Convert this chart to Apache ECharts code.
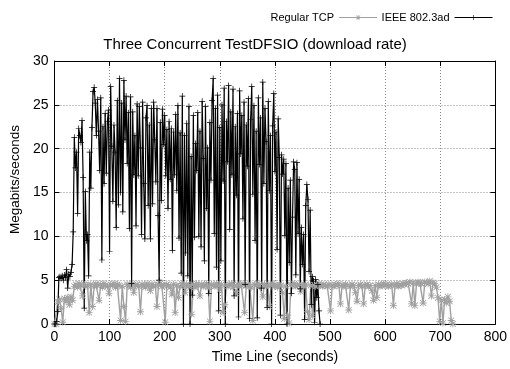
<!DOCTYPE html>
<html>
<head>
<meta charset="utf-8">
<script src="https://cdn.jsdelivr.net/npm/echarts@6/dist/echarts.min.js"></script>
<style>
html,body{margin:0;padding:0;background:#fff}
#main{width:510px;height:369px}
</style>
</head>
<body>
<div id="main"></div>
<script>
// sample spacing of each trace, seconds
var tcpStep = 3;
var bondStep = 2;

// Regular TCP download rate (Mbit/s), one value every tcpStep seconds from t=0
var tcpRate = [
  0, 0, 2.5, 2.8, 1.8, 0.2, 2.9, 2.6, 3.0, 2.2,
  3.1, 2.7, 4.3, 4.5, 4.2, 4.6, 4.4, 3.2, 4.5, 4.3,
  4.4, 1.3, 4.5, 2.0, 4.3, 4.6, 4.4, 2.7, 4.5, 4.2,
  4.6, 4.4, 4.3, 3.5, 4.5, 4.4, 4.6, 4.2, 4.5, 4.4,
  0.4, 4.3, 2.0, 0.3, 4.5, 4.4, 4.2, 4.6, 3.6, 4.4,
  4.5, 4.3, 1.4, 4.5, 4.4, 4.2, 4.6, 4.4, 3.8, 4.5,
  4.3, 4.4, 2.0, 4.5, 4.6, 4.3, 4.4, 0.2, 4.5, 4.4,
  4.2, 3.4, 4.5, 1.3, 4.4, 3.0, 4.3, 4.6, 4.4, 3.6,
  4.5, 4.3, 4.4, 1.1, 4.5, 4.2, 4.6, 4.4, 3.2, 4.5,
  4.3, 4.4, 4.6, 4.2, 0.3, 4.5, 4.4, 4.3, 4.6, 4.4,
  3.9, 4.5, 1.3, 2.2, 4.4, 4.3, 4.5, 4.6, 4.2, 4.4,
  3.5, 4.5, 4.3, 4.4, 4.6, 1.3, 4.4, 4.5, 4.3, 4.2,
  0.4, 4.5, 4.4, 4.6, 4.3, 4.4, 3.1, 4.5, 4.3, 4.4,
  2.0, 4.5, 4.6, 4.3, 4.4, 4.2, 4.5, 4.4, 3.6, 0.6,
  4.3, 1.0, 0.1, 4.5, 4.4, 4.6, 4.3, 4.4, 4.5, 3.7,
  4.4, 4.3, 4.5, 1.4, 0.5, 4.4, 1.0, 4.5, 4.3, 4.4,
  4.6, 4.4, 4.3, 4.5, 4.4, 4.3, 4.5, 1.5, 4.4, 4.3,
  4.5, 4.4, 4.6, 2.3, 4.4, 4.3, 4.5, 4.4, 1.6, 4.3,
  4.5, 4.4, 3.6, 2.6, 4.4, 4.5, 4.3, 2.3, 4.4, 4.5,
  4.3, 4.4, 3.8, 2.7, 4.4, 3.0, 4.5, 4.3, 4.4, 4.6,
  4.4, 4.5, 4.3, 4.4, 4.5, 2.1, 4.4, 4.6, 4.3, 4.5,
  4.4, 4.6, 4.5, 4.7, 4.6, 4.8, 2.3, 4.7, 2.1, 4.6,
  4.8, 4.7, 4.6, 2.4, 4.8, 4.7, 4.6, 4.9, 3.2, 4.7,
  4.6, 4.2, 3.0, 0.3, 2.7, 0.1, 2.8, 2.4, 3.1, 2.6,
  0.4, 0
];

// IEEE 802.3ad (bonded links) download rate, one value every bondStep seconds
var bondRate = [
  0, 0, 0.3, 1.4, 5.3, 5.4, 5.2, 5.5, 5.0, 5.6,
  5.3, 6.2, 4.1, 5.7, 5.4, 5.9, 6.8, 10.5, 21.3, 17.8,
  19.6, 12.6, 22.3, 21.5, 20.7, 23.2, 16.7, 1.8, 15.1, 9.5,
  10.2, 5.5, 19.6, 15.5, 22.4, 26.5, 27.0, 25.2, 21.5, 25.6,
  22.0, 17.5, 25.8, 7.3, 22.5, 16.0, 24.0, 17.2, 23.1, 24.4,
  8.3, 27.1, 20.3, 14.0, 22.7, 19.6, 11.0, 25.5, 13.6, 28.0,
  15.0, 25.2, 12.8, 27.8, 21.0, 26.0, 18.3, 24.1, 10.9, 25.9,
  4.6, 24.2, 17.0, 21.5, 11.2, 25.1, 16.9, 24.8, 20.1, 10.2,
  25.3, 16.0, 9.7, 23.5, 24.9, 13.5, 22.7, 9.7, 24.6, 13.7,
  25.3, 21.0, 16.2, 24.6, 12.4, 5.0, 23.0, 14.1, 24.5, 20.5,
  23.8, 16.9, 22.2, 13.2, 23.1, 16.5, 22.3, 8.4, 21.9, 17.0,
  23.9, 15.2, 24.9, 9.8, 21.8, 5.8, 26.0, 0, 21.5, 8.1,
  22.9, 5.5, 24.8, 0, 19.1, 3.3, 23.8, 9.9, 20.6, 17.5,
  24.1, 10.0, 22.0, 8.8, 25.4, 18.9, 7.2, 24.8, 13.2, 20.1,
  3.5, 23.0, 16.4, 25.5, 28.0, 10.3, 24.6, 6.5, 26.1, 1.5,
  22.4, 7.2, 25.0, 16.3, 26.9, 0, 23.1, 18.5, 27.2, 10.8,
  24.2, 17.0, 26.8, 3.2, 22.5, 14.7, 24.0, 0.8, 26.6, 19.4,
  23.8, 12.0, 25.3, 4.5, 22.7, 18.0, 25.7, 0.6, 23.3, 27.1,
  14.8, 24.9, 9.5, 22.0, 0.7, 25.8, 18.2, 23.5, 4.1, 27.6,
  16.0, 24.6, 20.8, 1.9, 25.4, 15.2, 21.5, 0, 22.6, 26.3,
  17.4, 21.9, 8.5, 23.4, 19.0, 1.0, 19.3, 17.1, 18.8, 10.1,
  18.3, 0, 15.5, 7.0, 16.4, 3.5, 12.2, 18.5, 17.6, 5.6,
  18.4, 10.3, 16.5, 4.0, 11.0, 6.8, 10.2, 0.5, 13.5, 15.9,
  14.2, 6.0, 13.0, 2.2, 5.4, 4.9, 0.2, 5.1, 3.0, 4.5,
  1.5, 0
];

var seriesNames = ['Regular TCP', 'IEEE 802.3ad'];

function toPoints(vals, step) {
  return vals.map(function (v, i) { return [i * step, v]; });
}

// gnuplot-ish point shapes
var plusMark = 'path://M4.4,0H5.6V4.4H10V5.6H5.6V10H4.4V5.6H0V4.4H4.4Z';
var starMark = 'path://M4.4,0H5.6V4.4H10V5.6H5.6V10H4.4V5.6H0V4.4H4.4Z' +
  'M1.2,0.4L9.6,8.8L8.8,9.6L0.4,1.2Z M8.8,0.4L9.6,1.2L1.2,9.6L0.4,8.8Z';

var font = 'Liberation Sans';
var chart = echarts.init(document.getElementById('main'));

var tickAxis = function (pos, isX) {
  var ax = {
    type: 'value', position: pos, min: 0,
    max: isX ? 800 : 30, interval: isX ? 100 : 5,
    axisLine: { show: true, onZero: false, lineStyle: { color: '#000', width: 1 } },
    axisTick: { show: true, inside: true, length: 5, lineStyle: { color: '#000' } },
    axisLabel: { show: false },
    splitLine: { show: false }
  };
  return ax;
};

var xMain = tickAxis('bottom', true);
xMain.axisLabel = { show: true, color: '#000', fontFamily: font, fontSize: 14, margin: 6 };
xMain.splitLine = { show: true, lineStyle: { type: [1, 2], color: '#888' } };
xMain.name = 'Time Line (seconds)';
xMain.nameLocation = 'middle';
xMain.nameGap = 26;
xMain.nameTextStyle = { color: '#000', fontFamily: font, fontSize: 14 };

var yMain = tickAxis('left', false);
yMain.axisLabel = { show: true, color: '#000', fontFamily: font, fontSize: 14, margin: 6 };
yMain.splitLine = { show: true, lineStyle: { type: [1, 2], color: '#888' } };
yMain.name = 'Megabits/seconds';
yMain.nameLocation = 'middle';
yMain.nameRotate = 90;
yMain.nameGap = 26;
yMain.nameTextStyle = { color: '#000', fontFamily: font, fontSize: 13.5, padding: [0, 0, 0, 26] };

chart.setOption({
  animation: false,
  backgroundColor: '#fff',
  title: {
    text: 'Three Concurrent TestDFSIO (download rate)',
    left: 'center', top: 32,
    textStyle: { color: '#000', fontFamily: font, fontSize: 15, fontWeight: 'normal' }
  },
  legend: {
    data: seriesNames,
    right: 12, top: 7,
    align: 'right',
    itemWidth: 38, itemHeight: 6, itemGap: 4,
    lineStyle: { width: 1 },
    textStyle: { color: '#000', fontFamily: font, fontSize: 11 }
  },
  grid: { left: 51, right: 12, top: 61, bottom: 44, containLabel: false },
  xAxis: [xMain, tickAxis('top', true)],
  yAxis: [yMain, tickAxis('right', false)],
  series: [
    {
      name: seriesNames[0], type: 'line',
      data: toPoints(tcpRate, tcpStep),
      symbol: starMark, symbolSize: 7,
      lineStyle: { color: '#a0a0a0', width: 1.4 },
      itemStyle: { color: '#a0a0a0' }
    },
    {
      name: seriesNames[1], type: 'line',
      data: toPoints(bondRate, bondStep),
      symbol: plusMark, symbolSize: 6,
      lineStyle: { color: '#000', width: 1.2 },
      itemStyle: { color: '#000' }
    }
  ]
});
</script>
</body>
</html>
